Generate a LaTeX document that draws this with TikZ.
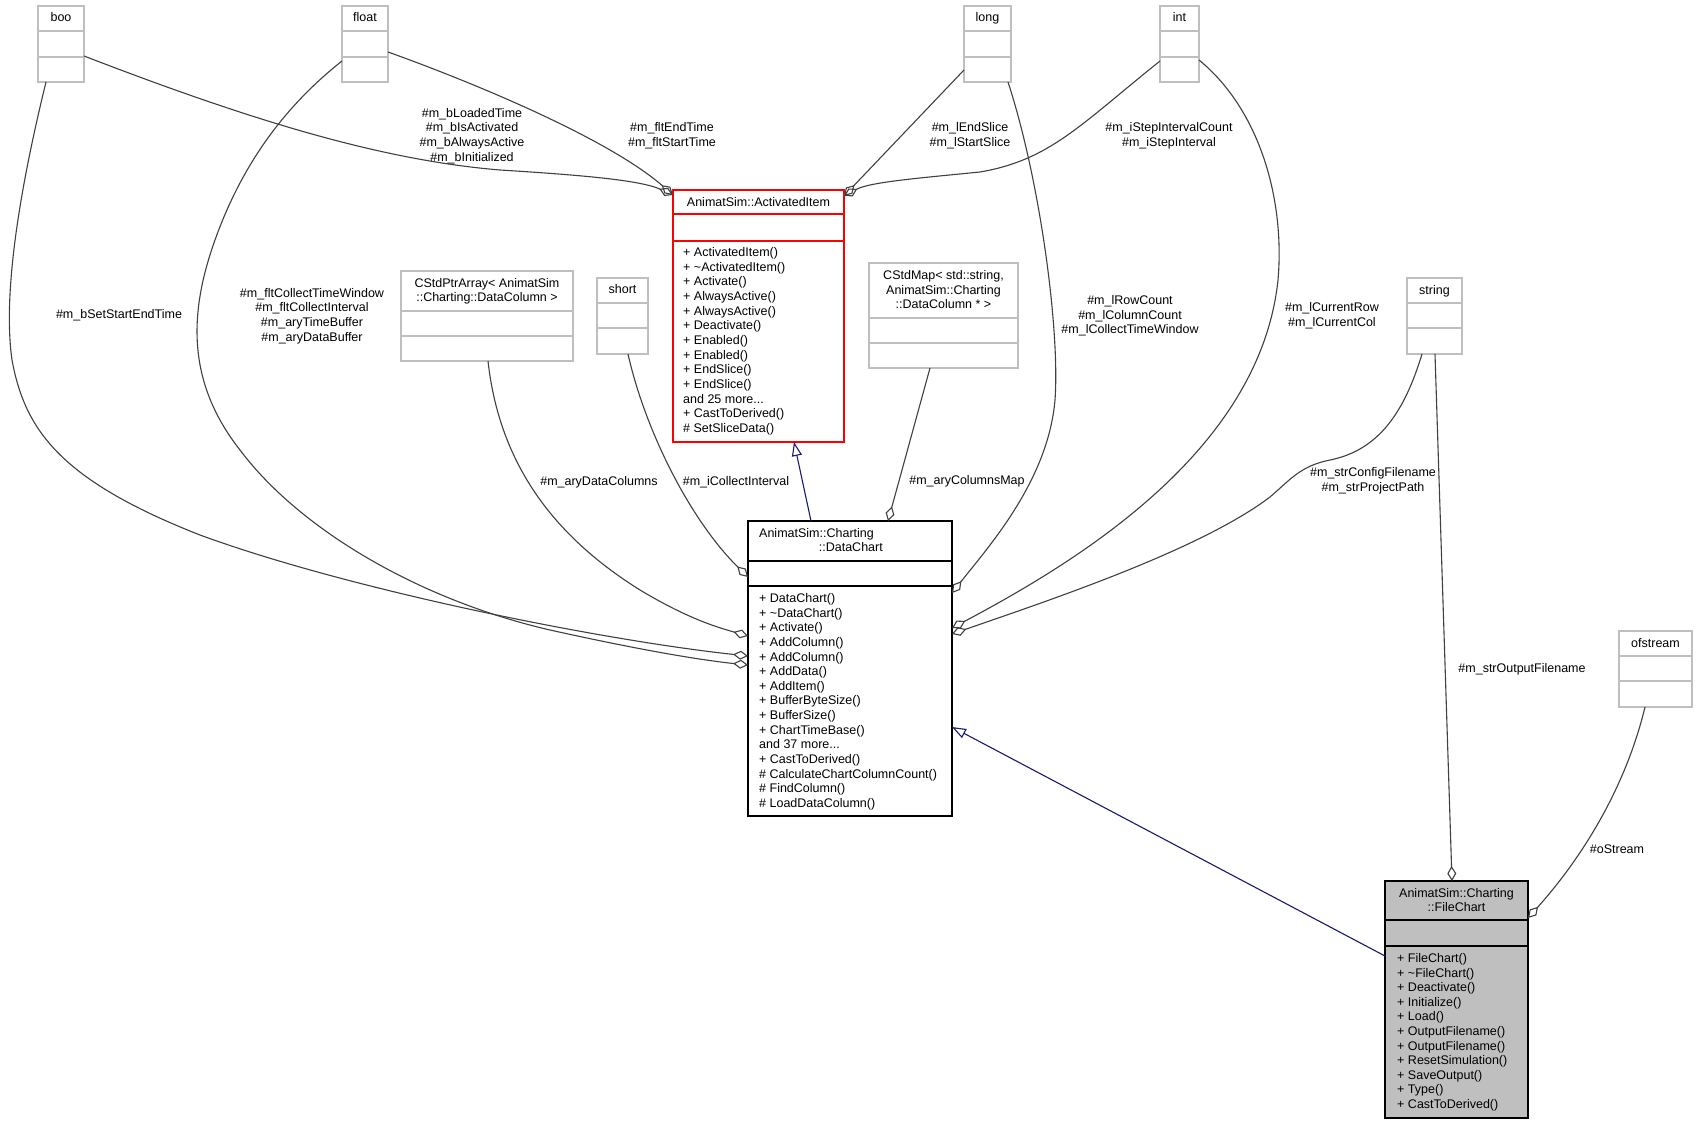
\documentclass[tikz,border=0pt]{standalone}
\usepackage{fontspec}
\setmainfont{Liberation Sans}
\usetikzlibrary{arrows.meta}
\definecolor{edgec}{HTML}{404040}
\definecolor{boxg}{HTML}{BFBFBF}
\definecolor{navyc}{HTML}{191970}
\definecolor{redc}{HTML}{FF0000}
\newcommand\mytdots{...}
\begin{document}
\begin{tikzpicture}[x=1pt,y=-1pt,font=\fontsize{12.5}{14.65}\selectfont,
  cls/.style={draw, line width=1.1pt, inner sep=0pt, outer sep=0pt, anchor=north west},
  gcls/.style={cls, draw=boxg},
  gsep/.style={draw=boxg, line width=1.1pt},
  bsep/.style={draw=black, line width=1.1pt},
  rsep/.style={draw=redc, line width=1.1pt},
  txt/.style={inner sep=0pt, anchor=base},
  mtxt/.style={inner sep=0pt, anchor=base west},
  lbl/.style={inner sep=0pt, align=center},
  agg/.style={draw=edgec, line width=1.1pt, -{Diamond[open,length=15pt,width=9pt]}},
  inh/.style={draw=navyc, line width=1.1pt, -{Triangle[open,length=14pt,width=10pt]}}]
\useasboundingbox (0,0) rectangle (1698,1124);
\fill[white] (0,0) rectangle (1698,1124);

% ---- small type boxes ----
\node[gcls, minimum width=46pt, minimum height=76pt] (boo) at (38,6) {};
\draw[gsep] (38,31) -- (84,31); \draw[gsep] (38,57) -- (84,57);
\node[txt] (booT) at (61,22) {boo};

\node[gcls, minimum width=46pt, minimum height=76pt] (float) at (342,6) {};
\draw[gsep] (342,31) -- (388,31); \draw[gsep] (342,57) -- (388,57);
\node[txt] (floatT) at (365,22) {float};

\node[gcls, minimum width=47pt, minimum height=76pt] (long) at (964,6) {};
\draw[gsep] (964,31) -- (1011,31); \draw[gsep] (964,57) -- (1011,57);
\node[txt] (longT) at (987.5,22) {long};

\node[gcls, minimum width=39pt, minimum height=76pt] (int) at (1160,6) {};
\draw[gsep] (1160,31) -- (1199,31); \draw[gsep] (1160,57) -- (1199,57);
\node[txt] (intT) at (1179.5,22) {int};

\node[gcls, minimum width=51pt, minimum height=76pt] (short) at (597,278) {};
\draw[gsep] (597,303) -- (648,303); \draw[gsep] (597,328) -- (648,328);
\node[txt] (shortT) at (622.5,293.5) {short};

\node[gcls, minimum width=55pt, minimum height=76pt] (string) at (1407,278) {};
\draw[gsep] (1407,303) -- (1462,303); \draw[gsep] (1407,328) -- (1462,328);
\node[txt] (stringT) at (1434.5,294.5) {string};

\node[gcls, minimum width=73pt, minimum height=76pt] (ofs) at (1619,631) {};
\draw[gsep] (1619,656) -- (1692,656); \draw[gsep] (1619,681) -- (1692,681);
\node[txt] (ofsT) at (1655.5,647.5) {ofstream};

\node[gcls, minimum width=172pt, minimum height=90pt] (cptr) at (401,271) {};
\draw[gsep] (401,311) -- (573,311); \draw[gsep] (401,336) -- (573,336);
\node[txt] (cptrT1) at (487,287.5) {CStdPtrArray< AnimatSim};
\node[txt] (cptrT2) at (487,301) {::Charting::DataColumn >};

\node[gcls, minimum width=149pt, minimum height=105pt] (cmap) at (869,263) {};
\draw[gsep] (869,318) -- (1018,318); \draw[gsep] (869,343) -- (1018,343);
\node[txt] (cmapT1) at (943.5,279.5) {CStdMap< std::string,};
\node[txt] (cmapT2) at (943.5,294) {AnimatSim::Charting};
\node[txt] (cmapT3) at (943.5,308.5) {::DataColumn * >};

% ---- ActivatedItem ----
\node[cls, draw=redc, minimum width=171pt, minimum height=252pt] (act) at (673,190) {};
\draw[rsep] (673,214) -- (844,214); \draw[rsep] (673,241) -- (844,241);
\node[txt] (actT) at (758.5,206.5) {AnimatSim::ActivatedItem};
\foreach \m [count=\i] in {{+ ActivatedItem()}, {+ \textasciitilde ActivatedItem()}, {+ Activate()},
  {+ AlwaysActive()}, {+ AlwaysActive()}, {+ Deactivate()}, {+ Enabled()}, {+ Enabled()},
  {+ EndSlice()}, {+ EndSlice()}, {and 25 more\mytdots}, {+ CastToDerived()}, {\# SetSliceData()}}
  \node[mtxt] (actM\i) at (683,{256.5+(\i-1)*14.67}) {\m};

% ---- DataChart ----
\node[cls, draw=black, minimum width=204pt, minimum height=295pt] (dc) at (748,521) {};
\draw[bsep] (748,561) -- (952,561); \draw[bsep] (748,586) -- (952,586);
\node[inner sep=0pt, anchor=base west] (dcT1) at (759,537.5) {AnimatSim::Charting};
\node[inner sep=0pt, anchor=base east] (dcT2) at (883,551.5) {::DataChart};
\foreach \m [count=\i] in {{+ DataChart()}, {+ \textasciitilde DataChart()}, {+ Activate()},
  {+ AddColumn()}, {+ AddColumn()}, {+ AddData()}, {+ AddItem()}, {+ BufferByteSize()},
  {+ BufferSize()}, {+ ChartTimeBase()}, {and 37 more\mytdots}, {+ CastToDerived()},
  {\# CalculateChartColumnCount()}, {\# FindColumn()}, {\# LoadDataColumn()}}
  \node[mtxt] (dcM\i) at (759,{602.5+(\i-1)*14.64}) {\m};

% ---- FileChart ----
\node[cls, draw=black, fill=boxg, minimum width=143pt, minimum height=237pt] (fc) at (1385,881) {};
\draw[bsep] (1385,920) -- (1528,920); \draw[bsep] (1385,946) -- (1528,946);
\node[txt] (fcT1) at (1456.5,897.5) {AnimatSim::Charting};
\node[txt] (fcT2) at (1456.5,911.5) {::FileChart};
\foreach \m [count=\i] in {{+ FileChart()}, {+ \textasciitilde FileChart()}, {+ Deactivate()},
  {+ Initialize()}, {+ Load()}, {+ OutputFilename()}, {+ OutputFilename()},
  {+ ResetSimulation()}, {+ SaveOutput()}, {+ Type()}, {+ CastToDerived()}}
  \node[mtxt] (fcM\i) at (1397,{962.5+(\i-1)*14.6}) {\m};

% ---- connectors ----
\draw[agg] ([yshift=-50pt]boo.north east) .. controls (250,120) and (380,160) .. (500,170)
  .. controls (580,175) and (640,180) .. ([yshift=-5pt]act.north west);
\draw[agg] ([yshift=-46pt]float.north east) .. controls (480,85) and (610,140) .. ([yshift=-5pt]act.north west);
\draw[agg] ([yshift=-64pt]long.north west) -- ([yshift=-6pt]act.north east);
\draw[agg] ([yshift=-55pt]int.north west) .. controls (1080,125) and (1050,160) .. (980,172)
  .. controls (920,178) and (870,182) .. ([yshift=-6pt]act.north east);

\draw[agg] ([xshift=-3pt]long.south east) .. controls (1040,180) and (1060,330) .. (1055,400)
  .. controls (1048,480) and (990,545) .. ([yshift=-72pt]dc.north east);
\draw[agg] ([yshift=-54pt]int.north east) .. controls (1260,110) and (1285,200) .. (1278,280)
  .. controls (1260,450) and (1080,560) .. ([yshift=-107pt]dc.north east);
\draw[agg] ([xshift=15pt]string.south west) .. controls (1405,410) and (1380,450) .. (1330,460)
  .. controls (1300,466) and (1290,480) .. (1270,497)
  .. controls (1200,550) and (1050,600) .. ([yshift=-113pt]dc.north east);
\draw[agg] ([xshift=28pt]string.south west) -- ([xshift=67pt]fc.north west);
\draw[agg] ([xshift=26pt]ofs.south west) .. controls (1625,790) and (1580,860) .. ([yshift=-37pt]fc.north east);

\draw[inh] ([yshift=-75pt]fc.north west) -- ([yshift=-206pt]dc.north east);
\draw[inh] ([xshift=63pt]dc.north west) -- ([xshift=121pt]act.south west);

\draw[agg] ([xshift=87pt]cptr.south west) .. controls (500,470) and (560,540) .. (640,590)
  .. controls (690,620) and (720,628) .. ([yshift=-115pt]dc.north west);
\draw[agg] ([xshift=31pt]short.south west) .. controls (645,430) and (690,520) .. ([yshift=-56pt]dc.north west);
\draw[agg] ([xshift=8pt]boo.south west) .. controls (22,180) and (2,290) .. (12,360)
  .. controls (25,430) and (60,480) .. (200,535)
  .. controls (350,590) and (600,640) .. ([yshift=-135pt]dc.north west);
\draw[agg] ([yshift=-55pt]float.north west) .. controls (280,110) and (240,170) .. (215,240)
  .. controls (190,310) and (185,380) .. (240,450)
  .. controls (300,530) and (420,600) .. (550,630)
  .. controls (640,650) and (700,660) .. ([yshift=-144pt]dc.north west);
\draw[agg] ([xshift=61pt]cmap.south west) -- ([xshift=140pt]dc.north west);

% ---- labels ----
\node[lbl] (l1) at (472,136) {\#m\_bLoadedTime\\\#m\_bIsActivated\\\#m\_bAlwaysActive\\\#m\_bInitialized};
\node[lbl] (l2) at (672,136) {\#m\_fltEndTime\\\#m\_fltStartTime};
\node[lbl] (l3) at (970,136) {\#m\_lEndSlice\\\#m\_lStartSlice};
\node[lbl] (l4) at (1169,136) {\#m\_iStepIntervalCount\\\#m\_iStepInterval};
\node[lbl] (l5) at (1130,316) {\#m\_lRowCount\\\#m\_lColumnCount\\\#m\_lCollectTimeWindow};
\node[lbl] (l6) at (1332,316) {\#m\_lCurrentRow\\\#m\_lCurrentCol};
\node[lbl] (l7) at (1373,481) {\#m\_strConfigFilename\\\#m\_strProjectPath};
\node[lbl] (l8) at (1522,669) {\#m\_strOutputFilename};
\node[lbl] (l9) at (1617,849) {\#oStream};
\node[lbl] (l10) at (599,482) {\#m\_aryDataColumns};
\node[lbl] (l11) at (736,482) {\#m\_iCollectInterval};
\node[lbl] (l12) at (967,481) {\#m\_aryColumnsMap};
\node[lbl] (l13) at (312,316) {\#m\_fltCollectTimeWindow\\\#m\_fltCollectInterval\\\#m\_aryTimeBuffer\\\#m\_aryDataBuffer};
\node[lbl] (l14) at (119,315) {\#m\_bSetStartEndTime};
\end{tikzpicture}
\end{document}
